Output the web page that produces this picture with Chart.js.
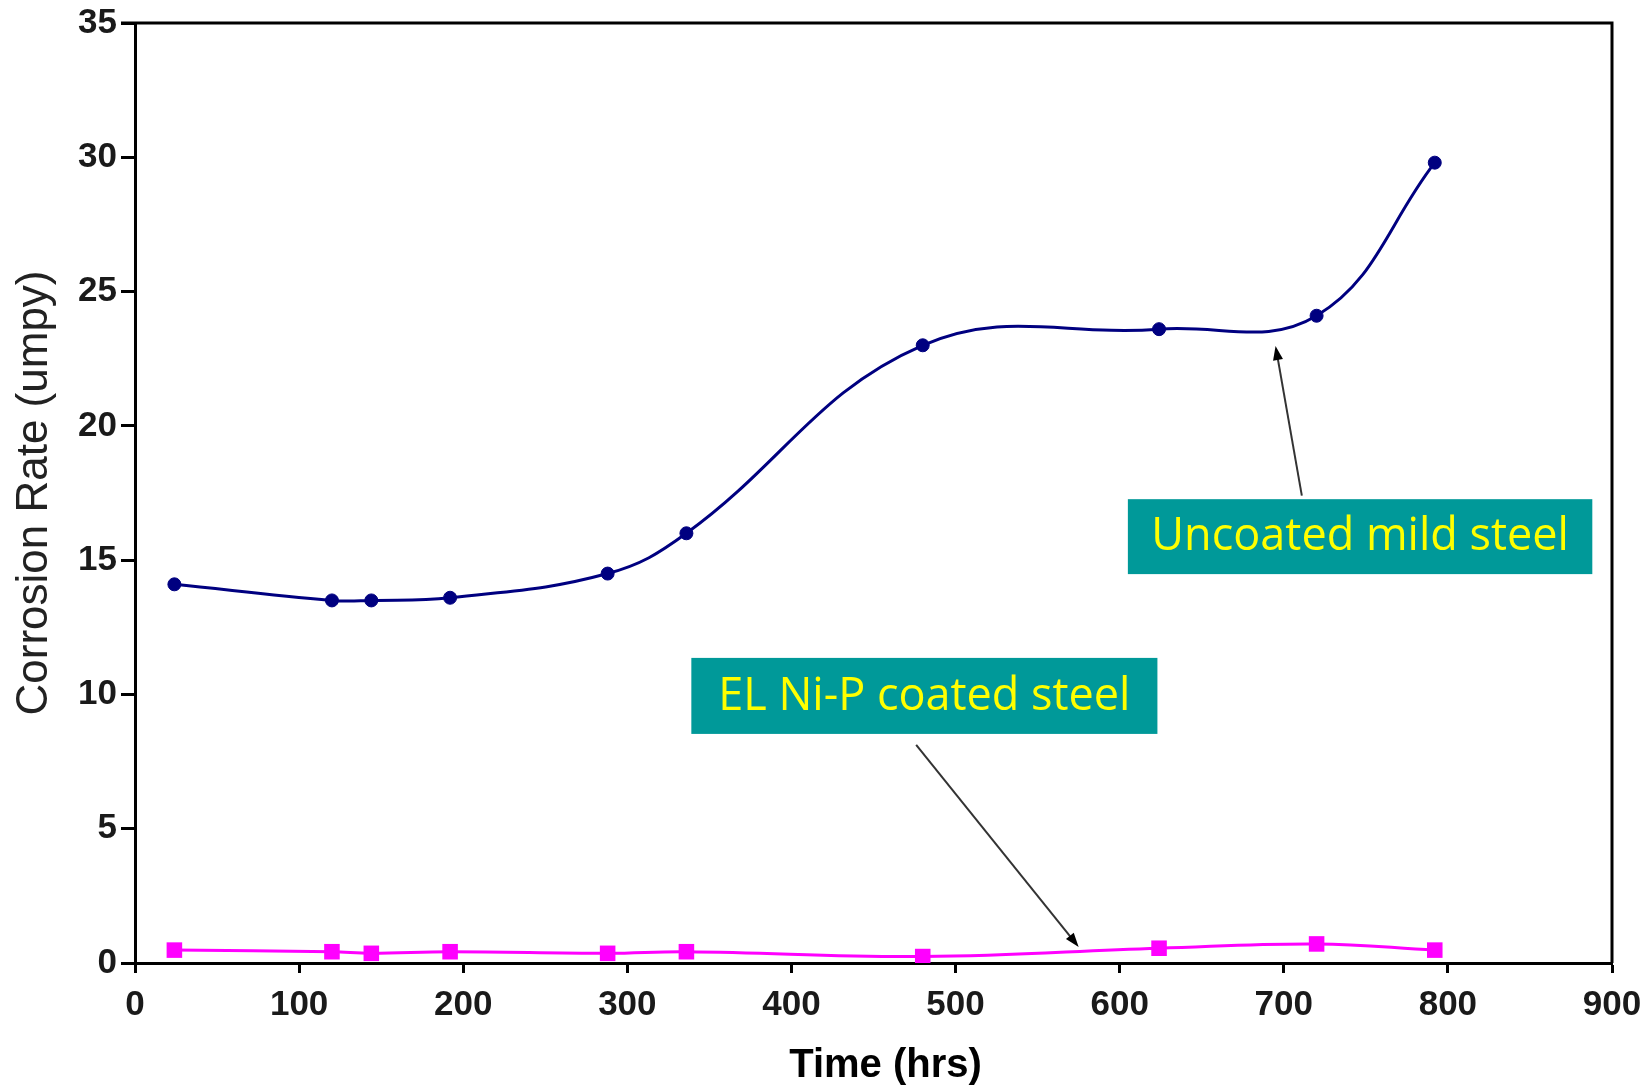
<!DOCTYPE html>
<html>
<head>
<meta charset="utf-8">
<script src="https://cdn.jsdelivr.net/npm/chart.js@4.4.1/dist/chart.umd.min.js"></script>
<style>
  html, body { margin: 0; padding: 0; background: #fff; }
</style>
</head>
<body>
<canvas id="myChart" width="1646" height="1089"></canvas>
<script>
// data
var hours = [24, 120, 144, 192, 288, 336, 480, 624, 720, 792];
var uncoated = [14.1, 13.5, 13.5, 13.6, 14.5, 16.0, 23.0, 23.6, 24.1, 29.8];
var coated = [0.48, 0.42, 0.36, 0.42, 0.36, 0.42, 0.24, 0.55, 0.71, 0.48];
var xTicks = [0, 100, 200, 300, 400, 500, 600, 700, 800, 900];
var yTicks = [0, 5, 10, 15, 20, 25, 30, 35];
var boxLabels = ['Uncoated mild steel', 'EL Ni-P coated steel'];

var toPoints = (xs, ys) => xs.map((x, i) => ({x: x, y: ys[i]}));

// callout boxes, given in data units
var notes = [
  {text: boxLabels[0], x0: 605, x1: 888, y0: 17.27, y1: 14.48, from: [711, 17.4], to: [695, 22.97]},
  {text: boxLabels[1], x0: 339, x1: 623, y0: 11.36, y1: 8.53, from: [476, 8.12], to: [575, 0.6]}
];

const extras = {
  id: 'extras',
  afterDraw(chart) {
    const {ctx, chartArea: a, scales: {x, y}} = chart;
    ctx.save();
    // top and right frame
    ctx.strokeStyle = '#000';
    ctx.lineWidth = 3;
    ctx.beginPath();
    ctx.moveTo(a.left - 14, a.top);
    ctx.lineTo(a.right, a.top);
    ctx.lineTo(a.right, a.bottom);
    ctx.stroke();

    // x axis title, drawn here so it can sit a bit right of centre like the original
    ctx.fillStyle = '#000';
    ctx.font = 'bold 40px "Liberation Sans", Arial';
    ctx.textAlign = 'center';
    ctx.textBaseline = 'middle';
    ctx.fillText('Time (hrs)', (a.left + a.right) / 2 + 12, 1066);

    notes.forEach(n => {
      var bx = x.getPixelForValue(n.x0), by = y.getPixelForValue(n.y0);
      var bw = x.getPixelForValue(n.x1) - bx, bh = y.getPixelForValue(n.y1) - by;
      ctx.fillStyle = '#009999';
      ctx.fillRect(bx, by, bw, bh);
      ctx.fillStyle = '#ffff00';
      ctx.font = '45px "Open Sans"';
      ctx.textAlign = 'center';
      ctx.textBaseline = 'middle';
      ctx.fillText(n.text, bx + bw / 2, by + bh / 2 + 1);

      var fx = x.getPixelForValue(n.from[0]), fy = y.getPixelForValue(n.from[1]);
      var tx = x.getPixelForValue(n.to[0]), ty = y.getPixelForValue(n.to[1]);
      var ang = Math.atan2(ty - fy, tx - fx);
      ctx.strokeStyle = '#333';
      ctx.lineWidth = 2;
      ctx.beginPath();
      ctx.moveTo(fx, fy);
      ctx.lineTo(tx - 10 * Math.cos(ang), ty - 10 * Math.sin(ang));
      ctx.stroke();
      ctx.fillStyle = '#000';
      ctx.beginPath();
      ctx.moveTo(tx, ty);
      ctx.lineTo(tx - 14 * Math.cos(ang) + 5 * Math.sin(ang), ty - 14 * Math.sin(ang) - 5 * Math.cos(ang));
      ctx.lineTo(tx - 14 * Math.cos(ang) - 5 * Math.sin(ang), ty - 14 * Math.sin(ang) + 5 * Math.cos(ang));
      ctx.closePath();
      ctx.fill();
    });
    ctx.restore();
  }
};

const ctx = document.getElementById('myChart');
var chart = new Chart(ctx, {
  type: 'line',
  data: {
    datasets: [{
      label: 'Uncoated mild steel',
      data: toPoints(hours, uncoated),
      borderColor: '#000080',
      backgroundColor: '#000080',
      borderWidth: 3,
      pointStyle: 'circle',
      pointRadius: 6.5,
      pointBorderWidth: 1,
      tension: 0.4
    }, {
      label: 'EL Ni-P coated steel',
      data: toPoints(hours, coated),
      borderColor: '#ff00ff',
      backgroundColor: '#ff00ff',
      borderWidth: 3,
      pointStyle: 'rect',
      pointRadius: 11,
      pointBorderWidth: 0,
      tension: 0.4
    }]
  },
  options: {
    responsive: false,
    animation: false,
    devicePixelRatio: 1,
    layout: { padding: {top: 23, right: 34, left: 0, bottom: 0} },
    plugins: { legend: {display: false}, tooltip: {enabled: false} },
    scales: {
      x: {
        type: 'linear',
        min: xTicks[0],
        max: xTicks[xTicks.length - 1],
        afterBuildTicks: s => { s.ticks = xTicks.map(v => ({value: v})); },
        afterFit: s => { s.height = 126; s.paddingLeft = 0; s.paddingRight = 0; },
        grid: {drawOnChartArea: false, drawTicks: true, tickLength: 10, tickWidth: 3, color: '#000'},
        border: {color: '#000', width: 3},
        ticks: {color: '#1a1a1a', padding: 11, maxRotation: 0, font: {family: '"Liberation Sans", Arial', size: 35, weight: 'bold'}},
        title: {display: false}
      },
      y: {
        type: 'linear',
        min: yTicks[0],
        max: yTicks[yTicks.length - 1],
        afterBuildTicks: s => { s.ticks = yTicks.map(v => ({value: v})); },
        afterFit: s => { s.width = 135; s.paddingTop = 0; s.paddingBottom = 0; },
        grid: {drawOnChartArea: false, drawTicks: true, tickLength: 14, tickWidth: 3, color: '#000'},
        border: {color: '#000', width: 3},
        ticks: {color: '#1a1a1a', padding: 4, font: {family: '"Liberation Sans", Arial', size: 35, weight: 'bold'}},
        title: {display: true, text: 'Corrosion Rate (umpy)', color: '#222', padding: {top: 13, bottom: 0},
          font: {family: '"Liberation Sans", Arial', size: 44, lineHeight: 1}}
      }
    }
  },
  plugins: [extras]
});
</script>
</body>
</html>
